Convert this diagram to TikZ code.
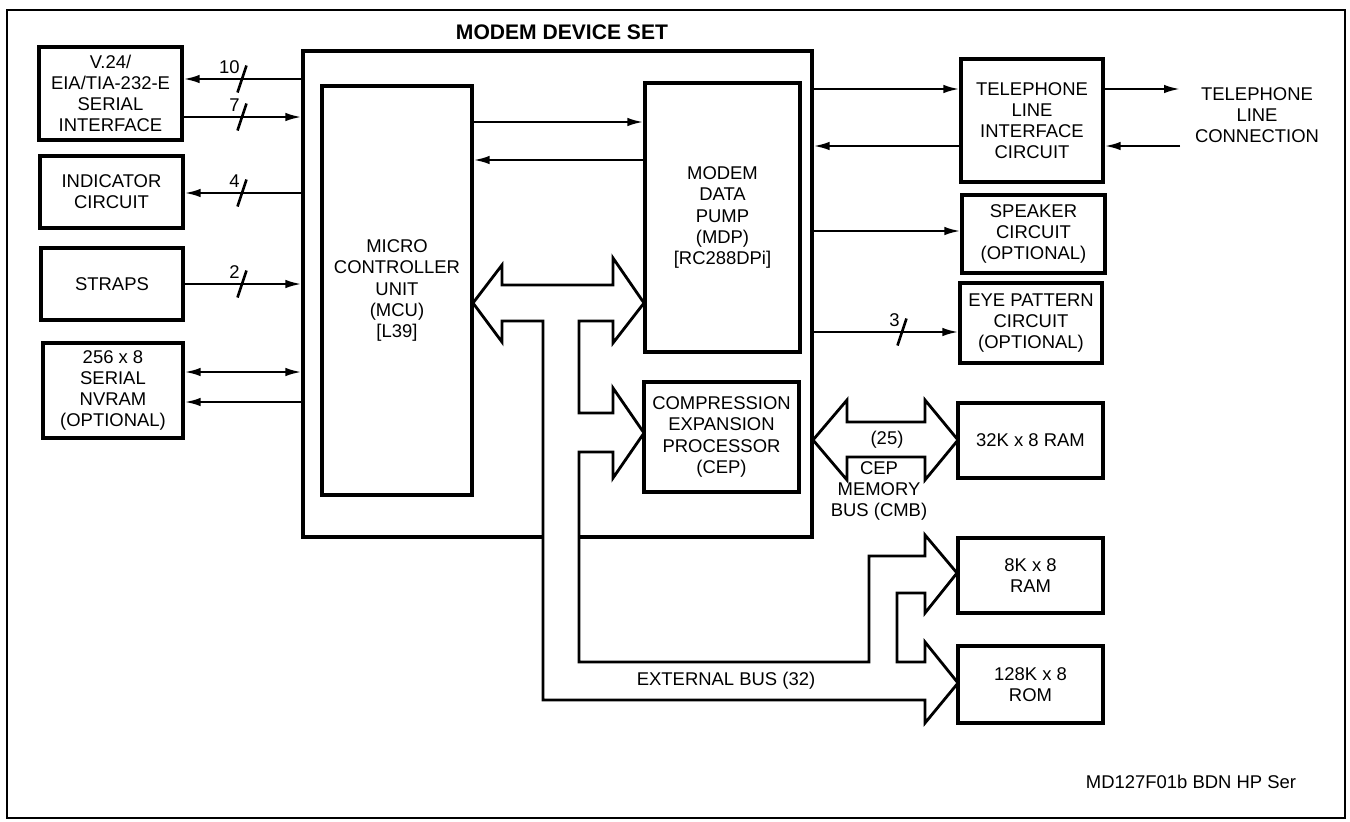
\documentclass[tikz,border=0pt]{standalone}
\usepackage{fontspec}
\setmainfont{Liberation Sans}
\usetikzlibrary{arrows.meta,positioning,calc}
\tikzset{
  >={Latex[length=3.2mm,width=1.7mm]},
  blk/.style={draw,line width=1.9pt,align=center,inner sep=1pt,
    font=\fontsize{10.5}{12}\selectfont},
  sig/.style={line width=1.3pt},
  bus/.style={draw,fill=white,line width=1.6pt,line join=miter},
  tag/.style={font=\fontsize{10.5}{12}\selectfont,align=center},
  % bus width marker
  pics/slash/.style={code={
    \draw[line width=1.5pt] (-4.5,13.5) -- (4.5,-13.5);
    \node[tag,anchor=east,inner sep=0pt] at (-2,-12) {#1};
  }},
}
\begin{document}
\begin{tikzpicture}[x=0.02cm,y=-0.02cm]
\useasboundingbox (0,0) rectangle (1350,822);
\draw[line width=1.4pt] (7,10) rectangle (1345,818);
\node[font=\fontsize{12}{14}\selectfont\bfseries] (title) at (562,32) {MODEM DEVICE SET};

% device set and the buses
\node[draw,line width=1.9pt,minimum width=10.18cm,minimum height=9.72cm] (mds) at (557.5,294) {};
\draw[bus] (502,285) -- (502,265) -- (473,303) -- (502,342) -- (502,321) -- (543,321) -- (543,700)
  -- (925,700) -- (925,723) -- (958,683) -- (925,642) -- (925,662) -- (897,662)
  -- (897,593) -- (925,593) -- (925,613) -- (957,573) -- (925,535) -- (925,556)
  -- (869,556) -- (869,662) -- (579,662) -- (579,452) -- (613,452) -- (613,478)
  -- (644,433) -- (613,388) -- (613,413) -- (579,413) -- (579,321) -- (613,321)
  -- (613,343) -- (644,303) -- (613,258) -- (613,285) -- cycle;
\draw[bus] (847,422) -- (847,400) -- (813,440) -- (847,480) -- (847,457) -- (925,457) -- (925,480)
  -- (958,440) -- (925,400) -- (925,422) -- cycle;

\node[blk,minimum width=3cm,minimum height=8.18cm] (mcu) at (397,290.5)
  {MICRO\\CONTROLLER\\UNIT\\(MCU)\\{[L39]}};
\node[blk,minimum width=3.1cm,minimum height=5.38cm] (mdp) at (722.5,217.5)
  {MODEM\\DATA\\PUMP\\(MDP)\\{[RC288DPi]}};
\node[blk,minimum width=3.1cm,minimum height=2.2cm] (cep) at (721.5,437)
  {COMPRESSION\\EXPANSION\\PROCESSOR\\(CEP)};

% left side
\node[blk,minimum width=2.86cm,minimum height=1.86cm] (v24) at (110.5,93.5)
  {V.24/\\EIA/TIA-232-E\\SERIAL\\INTERFACE};
\node[blk,minimum width=2.86cm,minimum height=1.44cm] (ind) at (111.5,192)
  {INDICATOR\\CIRCUIT};
\node[blk,minimum width=2.84cm,minimum height=1.44cm] (straps) at (112,284) {STRAPS};
\node[blk,minimum width=2.8cm,minimum height=1.9cm] (nvram) at (113,390.5)
  {256 x 8\\SERIAL\\NVRAM\\(OPTIONAL)};

% right side
\node[blk,minimum width=2.84cm,minimum height=2.46cm] (tel) at (1032,120.5)
  {TELEPHONE\\LINE\\INTERFACE\\CIRCUIT};
\node[blk,minimum width=2.86cm,minimum height=1.56cm] (spk) at (1033.5,234)
  {SPEAKER\\CIRCUIT\\(OPTIONAL)};
\node[blk,minimum width=2.84cm,minimum height=1.6cm] (eye) at (1031,323)
  {EYE PATTERN\\CIRCUIT\\(OPTIONAL)};
\node[blk,minimum width=2.9cm,minimum height=1.5cm] (ram32) at (1030.5,440.5) {32K x 8 RAM};
\node[blk,minimum width=2.9cm,minimum height=1.5cm] (ram8) at (1030.5,575.5) {8K x 8\\RAM};
\node[blk,minimum width=2.9cm,minimum height=1.54cm] (rom) at (1030.5,684.5) {128K x 8\\ROM};
\node[tag] (telcon) at (1257,115) {TELEPHONE\\LINE\\CONNECTION};

% signals
\draw[sig,->] (mds.west |- 0,79) -- (v24.east |- 0,79);
\draw[sig,->] (v24.east |- 0,117) -- (mds.west |- 0,117);
\draw[sig,->] (mds.west |- 0,193) -- (ind.east |- 0,193);
\draw[sig,->] (straps.east |- 0,284) -- (mds.west |- 0,284);
\draw[sig,<->] (nvram.east |- 0,372) -- (mds.west |- 0,372);
\draw[sig,->] (mds.west |- 0,402) -- (nvram.east |- 0,402);
\pic at (242,79) {slash=10};
\pic at (242,117) {slash=7};
\pic at (242,193) {slash=4};
\pic at (242,284) {slash=2};

\draw[sig,->] (mcu.east |- 0,122) -- (mdp.west |- 0,122);
\draw[sig,->] (mdp.west |- 0,160) -- (mcu.east |- 0,160);

\coordinate (lineout) at (1180,89);
\coordinate (linein) at (1180,146);
\draw[sig,->] (mds.east |- lineout) -- (tel.west |- lineout);
\draw[sig,->] (tel.west |- linein) -- (mds.east |- linein);
\draw[sig,->] (tel.east |- lineout) -- (lineout);
\draw[sig,->] (linein) -- (tel.east |- linein);
\draw[sig,->] (mds.east |- 0,231) -- (spk.west |- 0,231);
\draw[sig,->] (mds.east |- 0,332) -- (eye.west |- 0,332);
\pic at (902,332) {slash=3};

% bus labels
\node[tag] (cmbw) at (887,440) {(25)};
\node[tag] (cmb) at (879,491) {CEP\\MEMORY\\BUS (CMB)};
\node[tag] (extbus) at (726,681) {EXTERNAL BUS (32)};
\node[tag] (ref) at (1191,782) {MD127F01b BDN HP Ser};
\end{tikzpicture}
\end{document}
